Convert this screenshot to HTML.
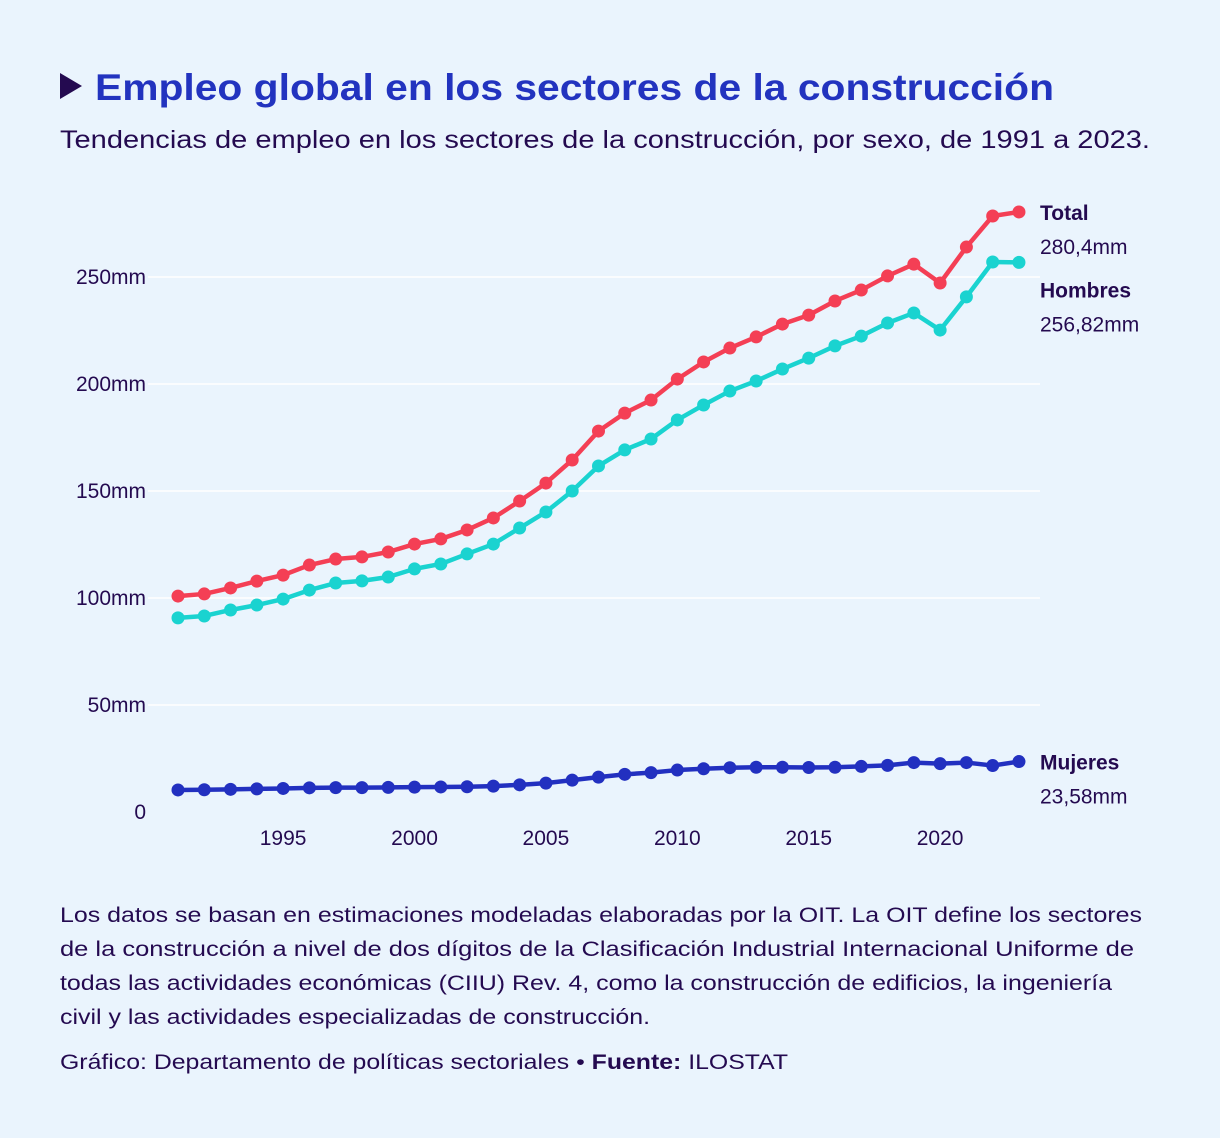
<!DOCTYPE html>
<html><head><meta charset="utf-8"><style>
html,body{margin:0;padding:0;background:#eaf4fd;}
svg{display:block;font-family:"Liberation Sans",sans-serif;}
</style></head><body>
<svg id="chart" width="1220" height="1138" viewBox="0 0 1220 1138">
<rect width="1220" height="1138" fill="#eaf4fd"/>
<polygon points="60,73 60,99 82,86" fill="#240a50"/>
<text x="95" y="100" font-size="37" font-weight="bold" fill="#2233bf" textLength="959" lengthAdjust="spacingAndGlyphs">Empleo global en los sectores de la construcción</text>
<text x="60" y="148" font-size="25" fill="#240a50" textLength="1090" lengthAdjust="spacingAndGlyphs">Tendencias de empleo en los sectores de la construcción, por sexo, de 1991 a 2023.</text>
<g id="grid"></g><g id="axes"></g><g id="series"></g><g id="labels"></g>
<g fill="#240a50" font-size="21">
<text x="60" y="922" textLength="1082" lengthAdjust="spacingAndGlyphs">Los datos se basan en estimaciones modeladas elaboradas por la OIT. La OIT define los sectores</text>
<text x="60" y="956" textLength="1074" lengthAdjust="spacingAndGlyphs">de la construcción a nivel de dos dígitos de la Clasificación Industrial Internacional Uniforme de</text>
<text x="60" y="990" textLength="1052" lengthAdjust="spacingAndGlyphs">todas las actividades económicas (CIIU) Rev. 4, como la construcción de edificios, la ingeniería</text>
<text x="60" y="1024" textLength="590" lengthAdjust="spacingAndGlyphs">civil y las actividades especializadas de construcción.</text>
</g>
<text x="60" y="1069" font-size="21" fill="#240a50" textLength="728" lengthAdjust="spacingAndGlyphs">Gráfico: Departamento de políticas sectoriales • <tspan font-weight="bold">Fuente:</tspan> ILOSTAT</text>
</svg>
<script>
const years=[1991,1992,1993,1994,1995,1996,1997,1998,1999,2000,2001,2002,2003,2004,2005,2006,2007,2008,2009,2010,2011,2012,2013,2014,2015,2016,2017,2018,2019,2020,2021,2022,2023];
const totalVals=[100.9,101.9,104.7,107.9,110.7,115.4,118.2,119.2,121.5,125.2,127.6,131.8,137.4,145.3,153.7,164.5,178,186.4,192.5,202.3,210.3,216.8,222,228,232.2,238.8,243.9,250.5,256,247.2,264,278.5,280.4];
const hombresVals=[90.7,91.6,94.4,96.7,99.5,103.7,107,108,109.8,113.6,115.9,120.6,125.2,132.7,140.2,150,161.7,169.2,174.3,183.2,190.2,196.7,201.4,207,212.1,217.8,222.4,228.5,233.2,225.2,240.7,257,256.82];
const mujeresVals=[10.3,10.4,10.6,10.8,11,11.3,11.4,11.4,11.5,11.6,11.7,11.8,12.1,12.7,13.5,14.9,16.3,17.6,18.4,19.6,20.2,20.7,20.9,20.9,20.8,20.9,21.3,21.8,23.1,22.6,23.1,21.7,23.58];
const yTicks=[0,50,100,150,200,250];
const yTickLabels=["0","50mm","100mm","150mm","200mm","250mm"];
const xTicks=[1995,2000,2005,2010,2015,2020];
const seriesNames=["Total","Hombres","Mujeres"];
const endLabels=["280,4mm","256,82mm","23,58mm"];
const NS="http://www.w3.org/2000/svg";
const x=v=>178+(v-1991)*26.28;
const y=v=>812-v*2.14;
function mk(tag,attrs,parent){const e=document.createElementNS(NS,tag);for(const k in attrs)e.setAttribute(k,attrs[k]);parent.appendChild(e);return e;}
const grid=document.getElementById('grid'),axes=document.getElementById('axes'),ser=document.getElementById('series'),lab=document.getElementById('labels');
yTicks.forEach((t,i)=>{
 if(t>0){const l=mk('line',{x1:148,x2:1040,y1:y(t),y2:y(t),stroke:'#ffffff','stroke-width':1.5},grid);
 
 }
 const tx=mk('text',{x:146,y:y(t)+7,'font-size':21,fill:'#240a50','text-anchor':'end'},axes);
 tx.textContent=yTickLabels[i];
 
 
});
xTicks.forEach(t=>{
 const tx=mk('text',{x:x(t),y:845,'font-size':21,fill:'#240a50','text-anchor':'middle'},axes);
 tx.textContent=t;
 
 
});
const colors=['#f43f55','#1ad3d0','#2230c0'];
[totalVals,hombresVals,mujeresVals].forEach((vals,si)=>{
 const g=mk('g',{},ser);
 
 
 const pl=mk('polyline',{points:vals.map((v,i)=>x(years[i])+','+y(v)).join(' '),fill:'none',stroke:colors[si],'stroke-width':4.5,'stroke-linejoin':'round'},g);
 
 
 vals.forEach((v,i)=>{const c=mk('circle',{cx:x(years[i]),cy:y(v),r:6.5,fill:colors[si]},g);
 
 });
 const last=vals[vals.length-1];
 const off=si===1?27:0;
 const n=mk('text',{x:1040,y:y(last)+8+off,'font-size':21,'font-weight':'bold',fill:'#240a50'},lab);
 n.textContent=seriesNames[si];
 
 
 const vl=mk('text',{x:1040,y:y(last)+42+off,'font-size':21,fill:'#240a50'},lab);
 vl.textContent=endLabels[si];
 
 
});
</script>
</body></html>
